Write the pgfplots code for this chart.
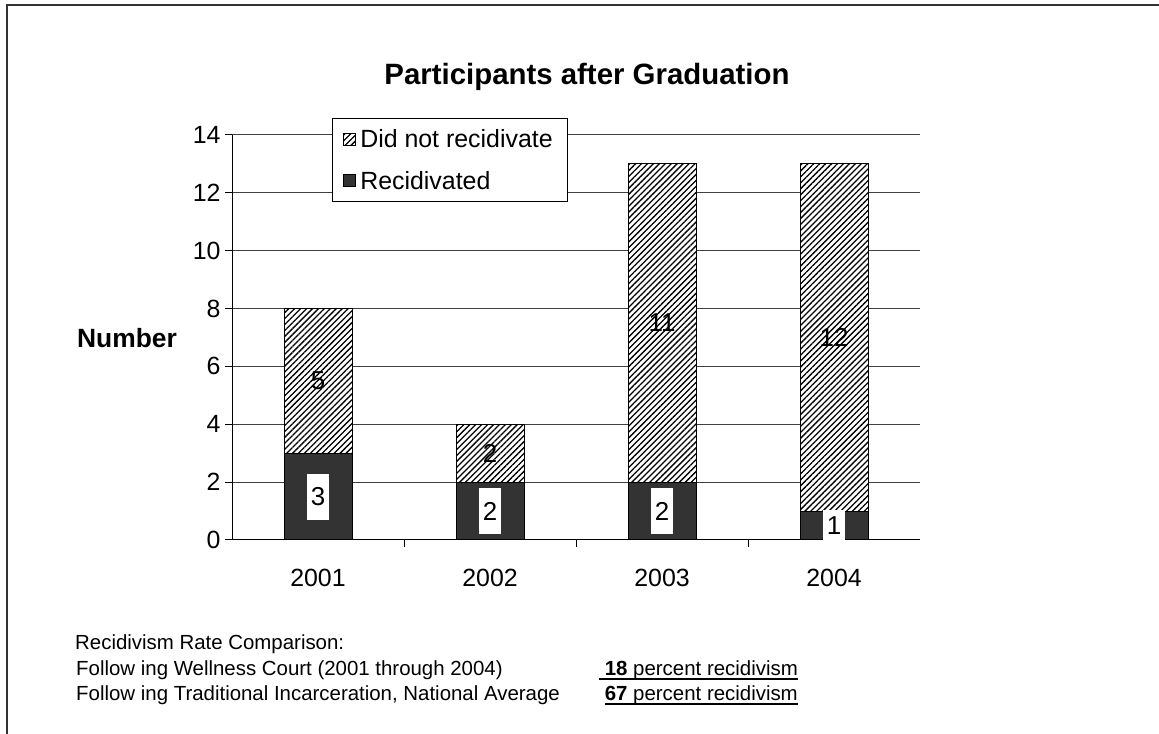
\documentclass[border=0pt]{standalone}
\usepackage{fontspec}
\setmainfont{Liberation Sans}
\usepackage{graphicx}
\usepackage{pgfplots}
\pgfplotsset{compat=1.18}
\usetikzlibrary{patterns.meta}
\definecolor{darkbar}{HTML}{333333}
\begin{document}
\begin{tikzpicture}[x=1bp,y=1bp]
\useasboundingbox (0,0) rectangle (1159,734);
\draw[line width=2bp, black!80] (6.5,-2) -- (6.5,728.5) -- (1161,728.5);
\begin{axis}[
  at={(232bp,194bp)}, anchor=south west,
  scale only axis, width=688bp, height=405bp,
  xmin=-0.5, xmax=3.5, ymin=0, ymax=14,
  axis lines=left, axis line style={-, black, line width=1bp},
  ytick={0,2,...,14},
  xtick={0,1,2,3}, xticklabels={2001,2002,2003,2004},
  minor xtick={0.5,1.5,2.5},
  major x tick style={draw=none},
  tick align=outside, major tick length=7bp, minor tick length=7bp,
  tick style={black, line width=1bp},
  ymajorgrids, grid style={black!75, line width=1bp},
  ticklabel style={font=\fontsize{25}{29}\selectfont},
  /pgf/number format/assume math mode=true,
  xticklabel style={yshift=-19bp},
  yticklabel style={xshift=-1bp},
  legend style={at={(0.1453,1.042)}, anchor=north west, draw=black, line width=1bp,
    font=\fontsize{25}{30}\selectfont, inner xsep=11bp, inner ysep=7bp, row sep=14bp,
    nodes={inner sep=4bp}},
  legend cell align=left,
  legend image code/.code={\draw[#1, line width=0.8bp] (0bp,-6bp) rectangle (12bp,6bp);},
  clip=false,
]
\addplot[ybar, bar width=68bp, bar shift=0pt, draw=black, line width=1bp, fill=white,
  postaction={pattern={Lines[angle=45,distance=4.2bp,line width=1.3bp]}, pattern color=black}]
  coordinates {(0,8) (1,4) (2,13) (3,13)};
\addlegendentry{Did not recidivate}
\addplot[ybar, bar width=68bp, bar shift=0pt, draw=black, line width=1bp, fill=darkbar]
  coordinates {(0,3) (1,2) (2,2) (3,1)};
\addlegendentry{Recidivated}
\addplot[forget plot, draw=none, mark=none, nodes near coords, point meta=explicit symbolic,
  nodes near coords style={anchor=center, inner sep=0pt, font=\fontsize{26}{30}\selectfont}]
  coordinates {(0,5.5)[5] (1,3)[2] (2,7.5)[11] (3,7)[12]};
\addplot[forget plot, draw=none, mark=none, nodes near coords, point meta=explicit symbolic,
  nodes near coords style={anchor=center, fill=white, inner sep=0pt, minimum width=22bp,
  minimum height=46bp, font=\fontsize{26}{30}\selectfont}]
  coordinates {(0,1.5)[3] (1,1)[2] (2,1)[2]};
\addplot[forget plot, draw=none, mark=none, nodes near coords, point meta=explicit symbolic,
  nodes near coords style={anchor=center, fill=white, inner sep=0pt, minimum width=22bp,
  minimum height=31bp, font=\fontsize{26}{30}\selectfont}]
  coordinates {(3,0.5)[1]};
\draw[black, line width=1bp] (axis cs:-0.5,0) -- (axis cs:3.5,0);
\end{axis}
\node[font=\bfseries\fontsize{29.5}{34}\selectfont] at (587,657) {Participants after Graduation};
\node[font=\bfseries\fontsize{26.5}{30}\selectfont] at (127,396) {Number};
\begin{scope}[every node/.style={inner sep=0pt, font=\fontsize{20.5}{24}\selectfont}]
\node[anchor=base west] at (75,84) {Recidivism Rate Comparison:};
\node[anchor=base west] at (76,58) {Follow ing Wellness Court (2001 through 2004)};
\node[anchor=base west] at (76,33) {Follow ing Traditional Incarceration, National Average};
\node[anchor=base east] (r1) at (798,58) {\ \textbf{18} percent recidivism};
\node[anchor=base east] (r2) at (798,33) {\textbf{67} percent recidivism};
\draw[line width=1.2bp] ([yshift=-3bp]r1.base west) -- ([yshift=-3bp]r1.base east);
\draw[line width=1.2bp] ([yshift=-3bp]r2.base west) -- ([yshift=-3bp]r2.base east);
\end{scope}
\end{tikzpicture}
\end{document}
